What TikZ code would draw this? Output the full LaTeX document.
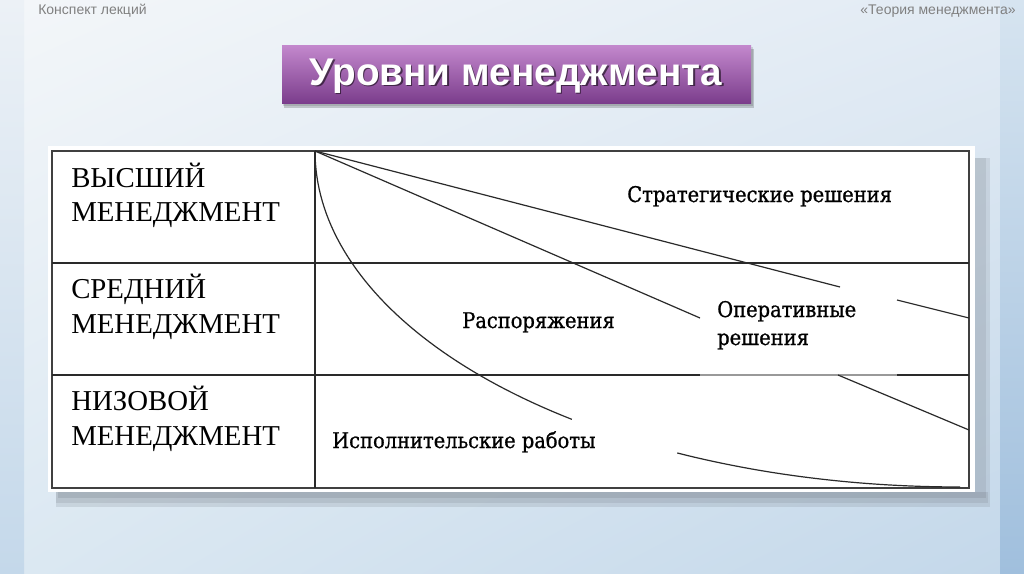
\documentclass[tikz,border=0pt]{standalone}
\usepackage{fontspec}
\usetikzlibrary{shadings}
\setmainfont{Liberation Serif}
\newfontfamily\titlefont{Liberation Sans}
\newfontfamily\condserif[FakeBold=0.9]{DejaVu Serif Condensed}
\definecolor{purpT}{HTML}{C287CC}
\definecolor{purpB}{HTML}{7A3C8B}
\definecolor{headgray}{HTML}{808080}
\definecolor{lineC}{HTML}{2A2A2A}
\definecolor{bgUL}{RGB}{243,246,249}
\definecolor{bgUR}{RGB}{226,235,244}
\definecolor{bgLL}{RGB}{219,232,242}
\definecolor{bgLR}{RGB}{196,216,234}
\definecolor{stLT}{RGB}{236,241,246}
\definecolor{stLB}{RGB}{196,216,234}
\definecolor{stRT}{RGB}{214,228,240}
\definecolor{stRB}{RGB}{160,191,221}
\definecolor{shadowC}{RGB}{120,128,138}
\tikzset{
  lbl/.style={anchor=base west, inner sep=0pt, font=\fontsize{21.6}{23}\selectfont, text=black},
  txt/.style={anchor=base west, inner sep=0pt, font=\condserif\fontsize{16.2}{18}\selectfont, text=black},
  head/.style={inner sep=0pt, font=\titlefont\fontsize{10.5}{12}\selectfont, text=headgray},
  gridline/.style={draw=lineC, line width=0.9pt},
  diag/.style={draw=lineC, line width=0.9pt},
}
\begin{document}
\begin{tikzpicture}[x=0.75pt,y=-0.75pt]
\useasboundingbox (0,0) rectangle (1024,574);
% background
\shade[upper left=bgUL, upper right=bgUR, lower left=bgLL, lower right=bgLR]
  (24,0) rectangle (1000,574);
\shade[top color=stLT, bottom color=stLB] (0,0) rectangle (24,574);
\shade[top color=stRT, bottom color=stRB] (1000,0) rectangle (1024,574);
% header
\node[head, anchor=base west] (hl) at (38,15) {Конспект лекций};
\node[head, anchor=base east] (hr) at (1016,15) {«Теория менеджмента»};
% title box
\fill[black, opacity=0.18] (284,49) rectangle (754,108);
\fill[black, opacity=0.12] (283,47) rectangle (753,106);
\shade[top color=purpT, bottom color=purpB] (282,46) rectangle (751,104);
\node[inner sep=0pt, font=\titlefont\bfseries\fontsize{29}{32}\selectfont, text=black, opacity=0.55] at (517.5,77.5) {Уровни менеджмента};
\node[inner sep=0pt, font=\titlefont\bfseries\fontsize{29}{32}\selectfont, text=white] (title) at (516,76) {Уровни менеджмента};
% table shadow
\fill[shadowC, opacity=0.20] (56,492) rectangle (990,507);
\fill[shadowC, opacity=0.20] (56,492) rectangle (988,503);
\fill[shadowC, opacity=0.25] (58,492) rectangle (986,498);
\fill[shadowC, opacity=0.18] (975,158) rectangle (990,492);
\fill[shadowC, opacity=0.18] (975,158) rectangle (986,492);
% table frame
\fill[white] (48,146) rectangle (975,492);
\draw[draw=black!75, line width=1.2pt] (52,151) rectangle (969,488);
\coordinate (apex) at (315,151);
\coordinate (cb) at (315,488);
\draw[gridline] (apex) -- (cb);
\draw[gridline] (52,263) -- (969,263);
\draw[gridline] (52,375) -- (700,375);
\draw[draw=black!40, line width=0.9pt] (700,375) -- (897,375);
\draw[gridline] (897,375) -- (969,375);
% labels
\node[lbl] (v1) at (71,187) {ВЫСШИЙ};
\node[lbl] (v2) at (71,221) {МЕНЕДЖМЕНТ};
\node[lbl] (s1) at (71,298) {СРЕДНИЙ};
\node[lbl] (s2) at (71,333) {МЕНЕДЖМЕНТ};
\node[lbl] (n1) at (71,410) {НИЗОВОЙ};
\node[lbl] (n2) at (71,445) {МЕНЕДЖМЕНТ};
% right texts
\node[txt] (strat) at (627,202) {Стратегические решения};
\node[txt] (rasp) at (462,328) {Распоряжения};
\node[txt] (oper1) at (717,317) {Оперативные};
\node[txt] (oper2) at (717,345) {решения};
\node[txt] (isp) at (332,448) {Исполнительские работы};
% diagonals
\coordinate (a1) at (840,287);
\coordinate (b1) at (897,300);
\coordinate (c1) at (969,318);
\coordinate (a2) at (700,318);
\coordinate (b2) at (838,375);
\coordinate (c2) at (969,430);
\draw[diag] (apex) -- (a1);
\draw[diag] (b1) -- (c1);
\draw[diag] (apex) -- (a2);
\draw[diag] (b2) -- (c2);
\draw[diag] plot[domain=0:53, samples=50, variable=\t] ({960-645*cos(\t)},{151+336*sin(\t)});
\draw[diag] plot[domain=64:90, samples=30, variable=\t] ({960-645*cos(\t)},{151+336*sin(\t)});
\end{tikzpicture}
\end{document}
